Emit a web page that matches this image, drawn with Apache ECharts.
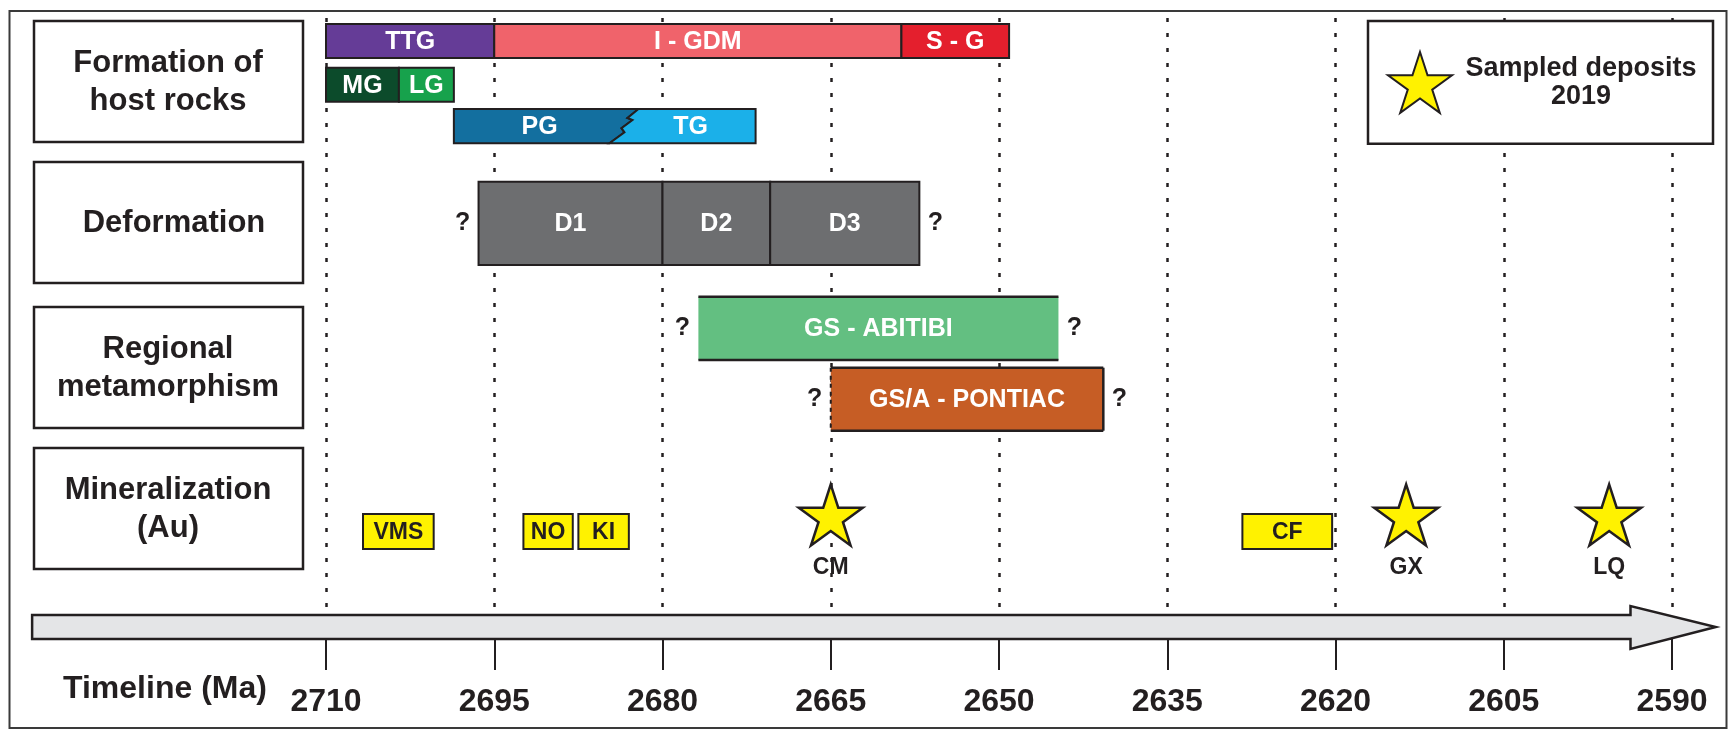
<!DOCTYPE html>
<html>
<head>
<meta charset="utf-8">
<title>Timeline (Ma)</title>
<script src="https://cdn.jsdelivr.net/npm/echarts@6/dist/echarts.min.js"></script>
<style>
  html, body { margin: 0; padding: 0; background: #fff; }
  #chart { width: 1732px; height: 732px; }
</style>
</head>
<body>
<div id="chart"></div>
<script>
// ages in Ma
const tickAges = [2710, 2695, 2680, 2665, 2650, 2635, 2620, 2605, 2590]

const rowLabels = ['Formation of\nhost rocks', 'Deformation', 'Regional\nmetamorphism', 'Mineralization\n(Au)']

const hostNames = ['TTG', 'I - GDM', 'S - G', 'MG', 'LG', 'PG', 'TG']
const hostStart = [2710, 2695, 2658.7, 2710, 2703.5, 2698.6, 2683.3]
const hostEnd = [2695, 2658.7, 2649.1, 2703.5, 2698.6, 2683.3, 2671.7]
const hostLane = ['h1', 'h1', 'h1', 'h2', 'h2', 'h3', 'h3']

const deformNames = ['D1', 'D2', 'D3']
const deformStart = [2696.4, 2680, 2670.4]
const deformEnd = [2680, 2670.4, 2657.1]

const metaNames = ['GS - ABITIBI', 'GS/A - PONTIAC']
const metaStart = [2676.8, 2665]
const metaEnd = [2644.7, 2640.7]

const mineralNames = ['VMS', 'NO', 'KI', 'CF']
const mineralStart = [2706.7, 2692.4, 2687.5, 2628.3]
const mineralEnd = [2700.4, 2688.0, 2683.0, 2620.3]

const depositNames = ['CM', 'GX', 'LQ']
const depositAges = [2665, 2613.7, 2595.6]

const legendLines = ['Sampled deposits', '2019']

// ---- layout / style ----
const FONT = '"Liberation Sans", Arial, Helvetica, sans-serif'
const INK = '#231f20'
const YELLOW = '#fff200'
const STAR = 'path://M0,-100L22.45,-30.9L95.1,-30.9L36.33,11.8L58.78,80.9L0,38.2L-58.78,80.9L-36.33,11.8L-95.1,-30.9L-22.45,-30.9Z'

// y axis runs 0..62.1 top to bottom
const lanes = {
  h1: [0.6, 4.0],
  h2: [4.97, 8.37],
  h3: [9.1, 12.53],
  def: [16.37, 24.7],
  m1: [27.87, 34.2],
  m2: [34.97, 41.27],
  min: [49.6, 53.1]
}
const starY = 49.7
const arrowBody = [59.7, 62.1]
const arrowHead = [58.8, 63.1]
const arrowSpan = [2736.2, 2593.7, 2586.1] // tail, head base, tip

const colors = {
  'TTG': '#653c97',
  'I - GDM': '#f0636b',
  'S - G': '#e41f2d',
  'MG': '#0c4b2b',
  'LG': '#17a24c',
  'PG': '#136f9f',
  'TG': '#1bb0e9',
  'D1': '#6d6e70',
  'D2': '#6d6e70',
  'D3': '#6d6e70',
  'GS - ABITIBI': '#63bf81',
  'GS/A - PONTIAC': '#c65d25'
}
// metamorphism bars have open sides
const sideEdges = {
  'GS - ABITIBI': [null, null],
  'GS/A - PONTIAC': ['dashed', 'solid']
}
const zigzag = [[13, 0], [2, 0.26], [7, 0.32], [-4, 0.56], [-1, 0.68], [-16, 1]]

const rowBoxTop = [21, 162, 307, 448]

// ---- build bar items ----
const barInfo = []
hostNames.forEach((n, i) => barInfo.push({
  name: n, from: hostStart[i], to: hostEnd[i], lane: lanes[hostLane[i]],
  zig: n === 'PG' ? 'right' : (n === 'TG' ? 'left' : null)
}))
deformNames.forEach((n, i) => barInfo.push({
  name: n, from: deformStart[i], to: deformEnd[i], lane: lanes.def,
  q: [i === 0, i === deformNames.length - 1]
}))
metaNames.forEach((n, i) => barInfo.push({
  name: n, from: metaStart[i], to: metaEnd[i], lane: lanes['m' + (i + 1)], q: [true, true]
}))
mineralNames.forEach((n, i) => barInfo.push({
  name: n, from: mineralStart[i], to: mineralEnd[i], lane: lanes.min, box: true
}))

function qMark(x, y) {
  return {
    type: 'text', x: x, y: y,
    style: { text: '?', align: 'center', verticalAlign: 'middle', fill: INK, fontSize: 25, fontWeight: 'bold', fontFamily: FONT }
  }
}

function renderBar(params, api) {
  const info = barInfo[params.dataIndex]
  const a = api.coord([api.value(0), api.value(2)])
  const b = api.coord([api.value(1), api.value(3)])
  const x0 = Math.min(a[0], b[0]), x1 = Math.max(a[0], b[0])
  const y0 = Math.min(a[1], b[1]), y1 = Math.max(a[1], b[1])
  const h = y1 - y0
  const cy = (y0 + y1) / 2
  const fill = info.box ? YELLOW : colors[info.name]
  const children = []
  const edges = sideEdges[info.name]

  if (info.zig) {
    const ex = info.zig === 'right' ? x1 : x0
    const zz = zigzag.map(p => [ex + p[0], y0 + p[1] * h])
    const pts = info.zig === 'right' ? [[x0, y0]].concat(zz, [[x0, y1]]) : zz.concat([[x1, y1], [x1, y0]])
    children.push({ type: 'polygon', shape: { points: pts }, style: { fill: fill, stroke: INK, lineWidth: 2 } })
  } else if (edges) {
    children.push({ type: 'rect', shape: { x: x0, y: y0, width: x1 - x0, height: h }, style: { fill: fill } })
    children.push({ type: 'line', shape: { x1: x0, y1: y0, x2: x1, y2: y0 }, style: { stroke: INK, lineWidth: 2.5 } })
    children.push({ type: 'line', shape: { x1: x0, y1: y1, x2: x1, y2: y1 }, style: { stroke: INK, lineWidth: 2.5 } })
    if (edges[0]) {
      children.push({ type: 'line', shape: { x1: x0, y1: y0, x2: x0, y2: y1 }, style: { stroke: INK, lineWidth: 2, lineDash: edges[0] === 'dashed' ? [4, 4] : null } })
    }
    if (edges[1]) {
      children.push({ type: 'line', shape: { x1: x1, y1: y0, x2: x1, y2: y1 }, style: { stroke: INK, lineWidth: 2.5 } })
    }
  } else {
    children.push({ type: 'rect', shape: { x: x0, y: y0, width: x1 - x0, height: h }, style: { fill: fill, stroke: INK, lineWidth: 2 } })
  }

  children.push({
    type: 'text', x: (x0 + x1) / 2, y: cy + 1,
    style: {
      text: info.name, align: 'center', verticalAlign: 'middle',
      fill: info.box ? INK : '#fff', fontSize: info.box ? 23 : 25, fontWeight: 'bold', fontFamily: FONT
    }
  })
  if (info.q && info.q[0]) children.push(qMark(x0 - 16, cy))
  if (info.q && info.q[1]) children.push(qMark(x1 + 16, cy))
  return { type: 'group', children: children }
}

function renderArrow(params, api) {
  const tailTop = api.coord([api.value(0), arrowBody[0]])
  const tailBot = api.coord([api.value(0), arrowBody[1]])
  const baseTop = api.coord([api.value(1), arrowBody[0]])
  const baseBot = api.coord([api.value(1), arrowBody[1]])
  const headTop = api.coord([api.value(1), arrowHead[0]])
  const headBot = api.coord([api.value(1), arrowHead[1]])
  const tip = api.coord([api.value(2), (arrowBody[0] + arrowBody[1]) / 2])
  return {
    type: 'polygon',
    shape: { points: [tailTop, baseTop, headTop, tip, headBot, baseBot, tailBot] },
    style: { fill: '#e4e5e7', stroke: INK, lineWidth: 2.5 }
  }
}

const graphics = [
  { type: 'rect', silent: true, shape: { x: 9.5, y: 11, width: 1717, height: 717 }, style: { fill: 'none', stroke: '#3a3a3a', lineWidth: 2 } }
]
rowLabels.forEach((label, i) => {
  graphics.push({
    type: 'rect', silent: true,
    shape: { x: 34, y: rowBoxTop[i], width: 269, height: 121 },
    style: { fill: '#fff', stroke: INK, lineWidth: 2.5 }
  })
  graphics.push({
    type: 'text', silent: true,
    x: i === 1 ? 174 : 168, y: rowBoxTop[i] + 61,
    style: {
      text: label, align: 'center', verticalAlign: 'middle', lineHeight: 38,
      fill: INK, fontSize: 31, fontWeight: 'bold', fontFamily: FONT
    }
  })
})
graphics.push({
  type: 'text', silent: true, x: 63, y: 689,
  style: { text: 'Timeline (Ma)', align: 'left', verticalAlign: 'middle', fill: INK, fontSize: 32, fontWeight: 'bold', fontFamily: FONT }
})

const chart = echarts.init(document.getElementById('chart'))
chart.setOption({
  animation: false,
  backgroundColor: '#fff',
  grid: { left: 326, right: 60, top: 18, bottom: 93 },
  xAxis: {
    type: 'value',
    inverse: true,
    position: 'bottom',
    min: tickAges[tickAges.length - 1],
    max: tickAges[0],
    interval: tickAges[0] - tickAges[1],
    // the timeline arrow is drawn over the axis line
    axisLine: { show: true, onZero: false, lineStyle: { color: INK, width: 2 } },
    axisTick: { show: true, length: 31, lineStyle: { color: INK, width: 2 } },
    axisLabel: {
      margin: 47, color: INK, fontSize: 32, fontWeight: 'bold', fontFamily: FONT,
      formatter: v => String(v)
    },
    splitLine: { show: true, lineStyle: { color: INK, width: 2.5, type: [4, 11] } }
  },
  yAxis: { type: 'value', inverse: true, min: 0, max: 62.1, show: false },
  legend: {
    data: ['Sampled deposits 2019'],
    left: 1368,
    top: 21,
    padding: [30, 8, 30, 19],
    itemWidth: 64,
    itemHeight: 61,
    selectedMode: false,
    backgroundColor: '#fff',
    borderColor: INK,
    borderWidth: 2.5,
    formatter: () => legendLines.map(l => '{a|' + l + '}').join('\n'),
    textStyle: {
      rich: { a: { width: 248, align: 'center', fontSize: 27, fontWeight: 'bold', lineHeight: 28, color: INK, fontFamily: FONT } }
    }
  },
  graphic: graphics,
  series: [
    {
      type: 'custom',
      name: 'timeline',
      renderItem: renderArrow,
      clip: false,
      silent: true,
      z: 3,
      data: [arrowSpan]
    },
    {
      type: 'custom',
      name: 'events',
      renderItem: renderBar,
      clip: false,
      silent: true,
      z: 4,
      encode: { x: [0, 1], y: [2, 3] },
      data: barInfo.map(d => ({ name: d.name, value: [d.from, d.to, d.lane[0], d.lane[1]] }))
    },
    {
      type: 'scatter',
      name: 'Sampled deposits 2019',
      symbol: STAR,
      symbolSize: [64, 61],
      z: 5,
      silent: true,
      itemStyle: { color: YELLOW, borderColor: INK, borderWidth: 2.5, opacity: 1 },
      label: {
        show: true, position: 'bottom', distance: 9, formatter: '{b}',
        color: INK, fontSize: 23, fontWeight: 'bold', fontFamily: FONT
      },
      data: depositNames.map((n, i) => ({ name: n, value: [depositAges[i], starY] }))
    }
  ]
})
</script>
</body>
</html>
